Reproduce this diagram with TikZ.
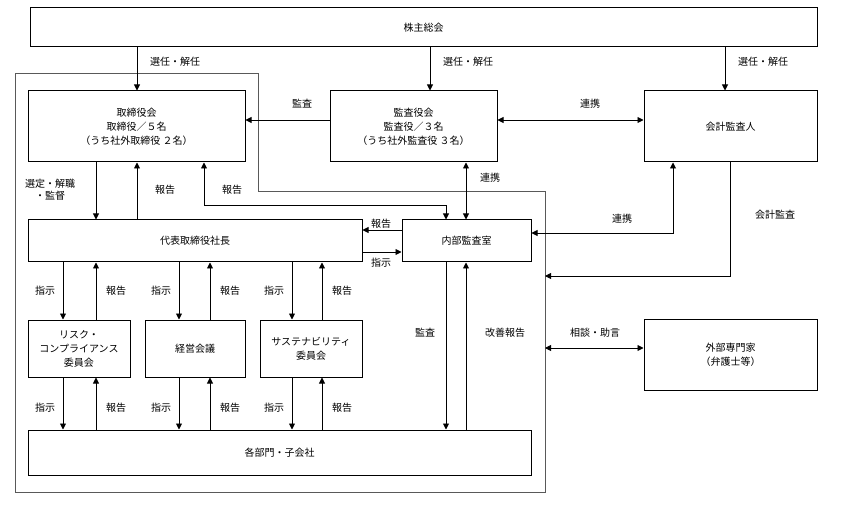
\documentclass[tikz,border=0pt]{standalone}
\usepackage{fontspec}
\newfontfamily\cjk{Noto Sans CJK JP}
\usetikzlibrary{arrows.meta}
\begin{document}
\begin{tikzpicture}[x=1pt,y=-1pt,
  box/.style={draw,line width=1pt,align=center,font=\cjk\fontsize{10}{14}\selectfont,inner sep=0pt},
  lab/.style={font=\cjk\fontsize{10}{12}\selectfont,align=center,inner sep=1pt},
  ar/.style={line width=0.9pt,-{Triangle[length=6pt,width=6pt]}},
  dar/.style={line width=0.9pt,{Triangle[length=6pt,width=6pt]}-{Triangle[length=6pt,width=6pt]}}]
\useasboundingbox (0,0) rectangle (841,513);
\newcommand{\bx}[6]{\node[box,minimum width=#4-#2,minimum height=#5-#3] (#1) at ({(#2+#4)/2},{(#3+#5)/2}) {#6};}
\draw[line width=1pt,gray!70!black] (15,74) -- (258,74) -- (258,192) -- (545,192) -- (545,492) -- (15,492) -- cycle;
\bx{sh}{30}{8}{817}{47}{株主総会}
\bx{bd}{28}{91}{245}{162}{取締役会\\取締役／５名\\（うち社外取締役 ２名）}
\bx{au}{330}{91}{497}{162}{監査役会\\監査役／３名\\（うち社外監査役 ３名）}
\bx{ac}{644}{91}{817}{162}{会計監査人}
\bx{ceo}{28}{220}{362}{262}{代表取締役社長}
\bx{ia}{402}{220}{531}{262}{内部監査室}
\bx{rc}{28}{320}{130}{377}{リスク・\\コンプライアンス\\委員会}
\bx{km}{145}{320}{245}{377}{経営会議}
\bx{sc}{260}{320}{362}{377}{サステナビリティ\\委員会}
\bx{dep}{28}{430}{531}{475}{各部門・子会社}
\bx{ex}{644}{319}{817}{390}{外部専門家\\（弁護士等）}
\coordinate (oc) at (545,276);
\coordinate (od) at (545,348);
% shareholders
\draw[ar] (sh.south -| 137,0) -- (bd.north -| 137,0);
\draw[ar] (sh.south -| 430,0) -- (au.north -| 430,0);
\draw[ar] (sh.south -| 725,0) -- (ac.north -| 725,0);
\foreach \x in {175,468,763} \node[lab] at (\x,62) {選任・解任};
\draw[ar] (au.west |- 0,120) -- (bd.east |- 0,120);
\node[lab] at (302,104) {監査};
\draw[dar] (au.east |- 0,120) -- (ac.west |- 0,120);
\node[lab] at (590,104) {連携};
\draw[ar] (bd.south -| 96,0) -- (ceo.north -| 96,0);
\node[lab] at (50,190) {選定・解職\\・監督};
\draw[ar] (ceo.north -| 137,0) -- (bd.south -| 137,0);
\node[lab] at (165,190) {報告};
\draw[dar] (bd.south -| 204,0) -- (204,205) -- (446,205) -- (ia.north -| 446,0);
\node[lab] at (232,190) {報告};
\draw[dar] (au.south -| 466,0) -- (ia.north -| 466,0);
\node[lab] at (490,178) {連携};
\draw[ar] (ia.west |- 0,230) -- (ceo.east |- 0,230);
\node[lab] at (381,224) {報告};
\draw[ar] (ceo.east |- 0,252) -- (ia.west |- 0,252);
\node[lab] at (381,263) {指示};
\draw[dar] (ac.south -| 673,0) -- (673,233) -- (ia.east |- 0,233);
\node[lab] at (622,219) {連携};
\draw[ar] (ac.south -| 730,0) -- (730,276) -- (oc);
\node[lab] at (775,215) {会計監査};
\draw[dar] (od) -- (ex.west |- od);
\node[lab] at (595,333) {相談・助言};
\draw[ar] (ia.south -| 446,0) -- (dep.north -| 446,0);
\node[lab] at (425,333) {監査};
\draw[ar] (dep.north -| 466,0) -- (ia.south -| 466,0);
\node[lab] at (505,333) {改善報告};
\foreach \b/\d/\u in {rc/63/96,km/179/210,sc/292/322}{
  \draw[ar] (ceo.south -| \d,0) -- (\b.north -| \d,0);
  \draw[ar] (\b.north -| \u,0) -- (ceo.south -| \u,0);
  \draw[ar] (\b.south -| \d,0) -- (dep.north -| \d,0);
  \draw[ar] (dep.north -| \u,0) -- (\b.south -| \u,0);
  \node[lab] at (\d-18,291) {指示};
  \node[lab] at (\u+20,291) {報告};
  \node[lab] at (\d-18,408) {指示};
  \node[lab] at (\u+20,408) {報告};
}
\end{tikzpicture}
\end{document}
